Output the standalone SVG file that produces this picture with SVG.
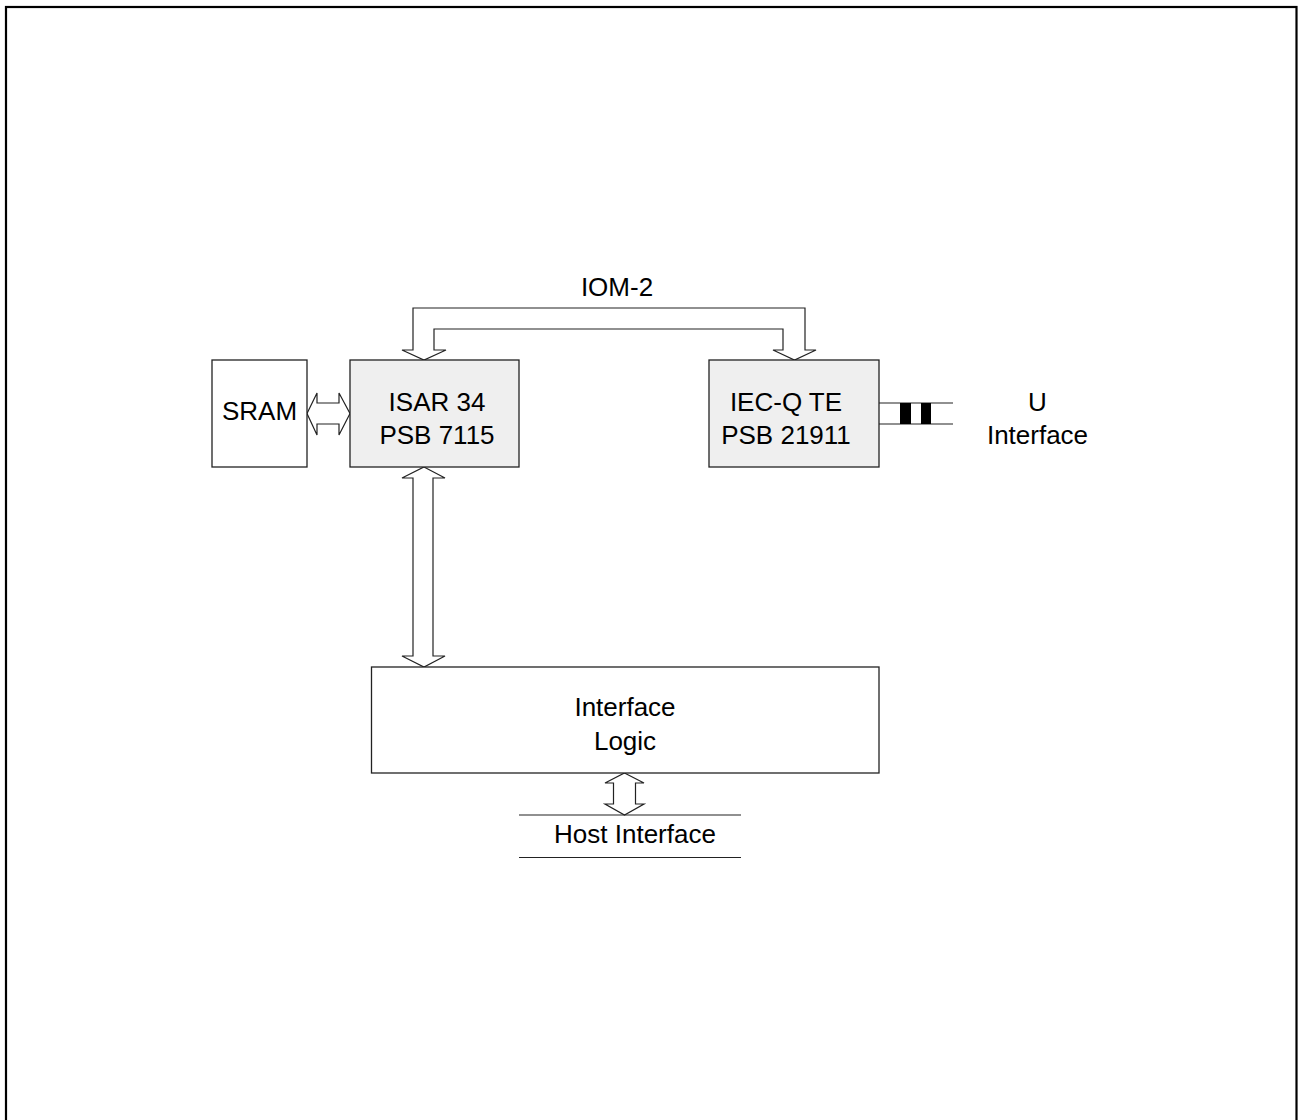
<svg xmlns="http://www.w3.org/2000/svg" width="1298" height="1120" viewBox="0 0 1298 1120">
<style>
.box{stroke:#222;stroke-width:1.3;}
.w{fill:#fff}
.g{fill:#efefef}
.t{font-family:"Liberation Sans",Arial,sans-serif;font-size:26px;fill:#000;text-anchor:middle}
.ar{fill:#fff;stroke:#222;stroke-width:1.2;stroke-linejoin:miter}
.ln{stroke:#222;stroke-width:1.2;fill:none}
</style>
<rect x="0" y="0" width="1298" height="1120" fill="#fff"/>
<rect x="6" y="7" width="1290.5" height="1130" fill="none" stroke="#000" stroke-width="2.2"/>
<g id="connectors">
<polygon class="ar" points="402,350 424,360 446,350 434,350 434,329 783,329 783,350 773,350 794.5,360 816,350 805,350 805,308 413,308 413,350"/>
<polygon class="ar" points="307,413.5 317,393 317,403 339,403 339,393 350,413.5 339,435 339,424 317,424 317,435"/>
<polygon class="ar" points="424,467 445,478 433,478 433,656 445,656 424,667 402,656 413,656 413,478 402,478"/>
<polygon class="ar" points="624.5,773 644,783 635.5,783 635.5,804 644,804 624.5,815 605,804 613.5,804 613.5,783 605,783"/>
<g id="u-connector">
<line class="ln" x1="879" y1="403" x2="953" y2="403"/>
<line class="ln" x1="879" y1="424" x2="953" y2="424"/>
<rect x="900" y="403" width="11" height="21" fill="#000"/>
<rect x="921" y="403" width="10" height="21" fill="#000"/>
</g>
</g>
<text class="t" x="617" y="296">IOM-2</text>
<g id="sram">
<rect class="box w" x="212" y="360" width="95" height="107"/>
<text class="t" x="259.5" y="420">SRAM</text>
</g>
<g id="isar">
<rect class="box g" x="350" y="360" width="169" height="107"/>
<text class="t" x="437" y="411">ISAR 34</text>
<text class="t" x="437" y="444">PSB 7115</text>
</g>
<g id="iecq">
<rect class="box g" x="709" y="360" width="170" height="107"/>
<text class="t" x="786" y="411">IEC-Q TE</text>
<text class="t" x="786" y="444">PSB 21911</text>
</g>
<g id="u-interface">
<text class="t" x="1037.5" y="411">U</text>
<text class="t" x="1037.5" y="444">Interface</text>
</g>
<g id="interface-logic">
<rect class="box w" x="371.5" y="667" width="507.5" height="106"/>
<text class="t" x="625" y="716">Interface</text>
<text class="t" x="625" y="750">Logic</text>
</g>
<g id="host-interface">
<line class="ln" x1="519" y1="815" x2="741" y2="815"/>
<line class="ln" x1="519" y1="857.5" x2="741" y2="857.5"/>
<text class="t" x="635" y="843">Host Interface</text>
</g>
</svg>
